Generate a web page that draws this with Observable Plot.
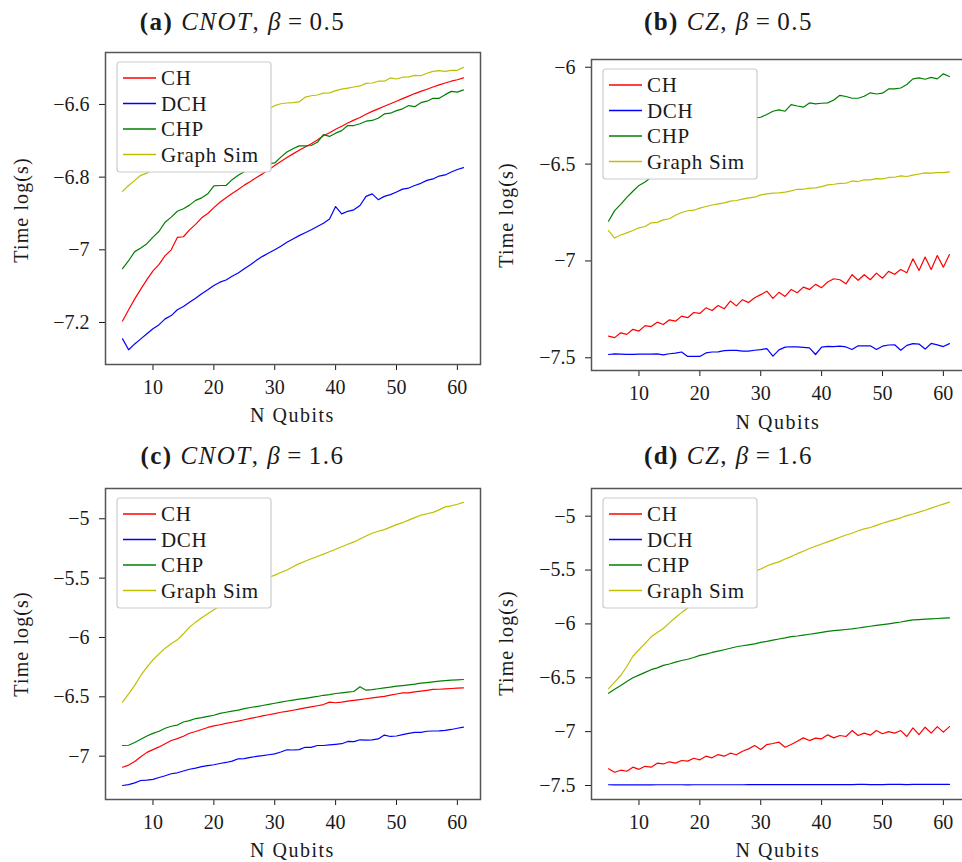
<!DOCTYPE html>
<html><head><meta charset="utf-8">
<script src="https://cdn.jsdelivr.net/npm/d3@7"></script>
<script src="https://cdn.jsdelivr.net/npm/@observablehq/plot@0.6"></script>
<style>
html,body{margin:0;padding:0;background:#fff;overflow:hidden;}
#root{position:relative;width:962px;height:862px;overflow:hidden;background:#fff;}
.panel{position:absolute;}
#overlay{position:absolute;left:0;top:0;pointer-events:none;}
</style></head><body><div id="root"></div><script>
// ---------- data ----------
const qubits = [5,6,7,8,9,10,11,12,13,14,15,16,17,18,19,20,21,22,23,24,25,26,27,28,29,30,31,32,33,34,35,36,37,38,39,40,41,42,43,44,45,46,47,48,49,50,51,52,53,54,55,56,57,58,59,60,61];
const seriesNames = ["CH","DCH","CHP","Graph Sim"];
const seriesColors = ["#ff0000","#0000ff","#008000","#bfbf00"];
const xTicks = [10,20,30,40,50,60];

// (a) CNOT, beta = 0.5
const aCH = [-7.196,-7.165,-7.135,-7.108,-7.082,-7.058,-7.040,-7.016,-7.000,-6.966,
  -6.964,-6.945,-6.930,-6.912,-6.900,-6.884,-6.869,-6.857,-6.845,-6.834,
  -6.822,-6.812,-6.801,-6.791,-6.780,-6.768,-6.757,-6.746,-6.736,-6.726,
  -6.717,-6.708,-6.698,-6.686,-6.678,-6.668,-6.660,-6.651,-6.643,-6.636,
  -6.627,-6.619,-6.612,-6.605,-6.598,-6.591,-6.584,-6.577,-6.570,-6.564,
  -6.558,-6.552,-6.546,-6.541,-6.536,-6.532,-6.527];
const aDCH = [-7.245,-7.275,-7.259,-7.245,-7.231,-7.217,-7.206,-7.190,-7.181,-7.165,
  -7.156,-7.144,-7.133,-7.121,-7.110,-7.098,-7.089,-7.083,-7.073,-7.064,
  -7.052,-7.041,-7.029,-7.018,-7.009,-7.000,-6.990,-6.979,-6.970,-6.961,
  -6.953,-6.945,-6.936,-6.927,-6.915,-6.881,-6.901,-6.894,-6.890,-6.878,
  -6.853,-6.846,-6.862,-6.853,-6.848,-6.841,-6.833,-6.830,-6.823,-6.817,
  -6.809,-6.805,-6.797,-6.794,-6.786,-6.779,-6.774];
const aCHP = [-7.052,-7.030,-7.005,-6.995,-6.983,-6.965,-6.949,-6.924,-6.910,-6.894,
  -6.887,-6.877,-6.864,-6.857,-6.846,-6.824,-6.823,-6.823,-6.807,-6.795,
  -6.785,-6.777,-6.771,-6.767,-6.763,-6.761,-6.745,-6.731,-6.722,-6.714,
  -6.714,-6.713,-6.704,-6.683,-6.688,-6.679,-6.672,-6.658,-6.658,-6.653,
  -6.646,-6.644,-6.638,-6.626,-6.624,-6.617,-6.612,-6.603,-6.606,-6.595,
  -6.591,-6.583,-6.583,-6.573,-6.564,-6.566,-6.560];
const aGS = [-6.839,-6.823,-6.809,-6.795,-6.789,-6.777,-6.765,-6.753,-6.741,-6.731,
  -6.720,-6.710,-6.700,-6.691,-6.682,-6.674,-6.665,-6.658,-6.650,-6.644,
  -6.637,-6.631,-6.625,-6.620,-6.613,-6.603,-6.598,-6.596,-6.595,-6.593,
  -6.580,-6.576,-6.574,-6.569,-6.568,-6.562,-6.558,-6.555,-6.552,-6.549,
  -6.542,-6.541,-6.536,-6.536,-6.527,-6.530,-6.525,-6.524,-6.520,-6.521,
  -6.514,-6.509,-6.507,-6.509,-6.506,-6.506,-6.498];

// (b) CZ, beta = 0.5
const bCH = [-7.388,-7.396,-7.371,-7.379,-7.353,-7.362,-7.334,-7.339,-7.316,-7.328,
  -7.304,-7.311,-7.285,-7.293,-7.266,-7.271,-7.242,-7.256,-7.230,-7.247,
  -7.207,-7.232,-7.200,-7.215,-7.190,-7.174,-7.156,-7.193,-7.162,-7.183,
  -7.147,-7.164,-7.135,-7.147,-7.121,-7.138,-7.109,-7.092,-7.097,-7.118,
  -7.071,-7.100,-7.071,-7.097,-7.063,-7.089,-7.054,-7.069,-7.044,-7.061,
  -6.989,-7.049,-6.980,-7.044,-6.972,-7.032,-6.967];
const bDCH = [-7.483,-7.480,-7.481,-7.482,-7.482,-7.481,-7.481,-7.481,-7.480,-7.485,
  -7.479,-7.476,-7.470,-7.493,-7.493,-7.493,-7.475,-7.470,-7.469,-7.463,
  -7.462,-7.462,-7.466,-7.466,-7.461,-7.458,-7.453,-7.491,-7.459,-7.445,
  -7.443,-7.444,-7.446,-7.449,-7.483,-7.445,-7.441,-7.442,-7.440,-7.444,
  -7.457,-7.438,-7.438,-7.438,-7.457,-7.440,-7.434,-7.433,-7.461,-7.436,
  -7.427,-7.429,-7.455,-7.426,-7.433,-7.442,-7.427];
const bCHP = [-6.795,-6.740,-6.708,-6.672,-6.640,-6.610,-6.592,-6.568,-6.542,-6.517,
  -6.493,-6.470,-6.448,-6.427,-6.407,-6.388,-6.370,-6.353,-6.337,-6.322,
  -6.308,-6.295,-6.283,-6.272,-6.263,-6.258,-6.244,-6.227,-6.220,-6.227,
  -6.193,-6.200,-6.206,-6.184,-6.189,-6.186,-6.184,-6.169,-6.145,-6.151,
  -6.160,-6.160,-6.150,-6.132,-6.138,-6.134,-6.112,-6.112,-6.107,-6.089,
  -6.060,-6.055,-6.062,-6.052,-6.060,-6.034,-6.048];
const bGS = [-6.843,-6.882,-6.866,-6.855,-6.843,-6.829,-6.822,-6.803,-6.801,-6.788,
  -6.782,-6.764,-6.750,-6.741,-6.738,-6.727,-6.719,-6.711,-6.705,-6.700,
  -6.691,-6.688,-6.681,-6.674,-6.671,-6.659,-6.654,-6.650,-6.649,-6.645,
  -6.638,-6.630,-6.630,-6.624,-6.623,-6.616,-6.607,-6.604,-6.600,-6.599,
  -6.587,-6.590,-6.581,-6.581,-6.575,-6.576,-6.569,-6.568,-6.561,-6.564,
  -6.557,-6.551,-6.545,-6.547,-6.544,-6.544,-6.540];

// (c) CNOT, beta = 1.6
const cCH = [-7.093,-7.075,-7.045,-7.005,-6.968,-6.945,-6.922,-6.895,-6.868,-6.852,
  -6.832,-6.807,-6.792,-6.775,-6.758,-6.745,-6.735,-6.724,-6.714,-6.704,
  -6.693,-6.682,-6.672,-6.661,-6.651,-6.641,-6.630,-6.622,-6.613,-6.603,
  -6.593,-6.584,-6.575,-6.565,-6.545,-6.550,-6.545,-6.537,-6.530,-6.523,
  -6.516,-6.509,-6.502,-6.496,-6.485,-6.476,-6.466,-6.466,-6.458,-6.452,
  -6.445,-6.438,-6.436,-6.433,-6.430,-6.427,-6.424];
const cDCH = [-7.247,-7.240,-7.225,-7.205,-7.202,-7.195,-7.180,-7.165,-7.148,-7.140,
  -7.125,-7.110,-7.100,-7.088,-7.080,-7.072,-7.062,-7.053,-7.042,-7.022,
  -7.020,-7.010,-7.002,-6.996,-6.988,-6.980,-6.965,-6.946,-6.948,-6.945,
  -6.925,-6.926,-6.910,-6.910,-6.905,-6.900,-6.895,-6.876,-6.878,-6.862,
  -6.864,-6.862,-6.855,-6.822,-6.834,-6.830,-6.818,-6.808,-6.800,-6.800,
  -6.790,-6.788,-6.787,-6.783,-6.775,-6.765,-6.755];
const cCHP = [-6.910,-6.908,-6.885,-6.858,-6.830,-6.808,-6.790,-6.765,-6.748,-6.738,
  -6.712,-6.700,-6.683,-6.675,-6.664,-6.655,-6.640,-6.630,-6.620,-6.612,
  -6.600,-6.590,-6.582,-6.573,-6.563,-6.554,-6.544,-6.535,-6.528,-6.520,
  -6.513,-6.505,-6.497,-6.487,-6.482,-6.472,-6.466,-6.460,-6.455,-6.415,
  -6.444,-6.440,-6.432,-6.425,-6.419,-6.410,-6.405,-6.399,-6.393,-6.385,
  -6.380,-6.374,-6.368,-6.364,-6.360,-6.357,-6.354];
const cGS = [-6.545,-6.475,-6.404,-6.320,-6.250,-6.188,-6.138,-6.090,-6.053,-6.020,
  -5.969,-5.913,-5.871,-5.834,-5.801,-5.767,-5.735,-5.700,-5.667,-5.635,
  -5.604,-5.575,-5.547,-5.520,-5.495,-5.475,-5.453,-5.432,-5.405,-5.378,
  -5.358,-5.337,-5.318,-5.298,-5.278,-5.257,-5.236,-5.215,-5.195,-5.170,
  -5.145,-5.122,-5.105,-5.091,-5.070,-5.049,-5.032,-5.011,-4.990,-4.970,
  -4.958,-4.946,-4.925,-4.900,-4.891,-4.878,-4.862];

// (d) CZ, beta = 1.6
const dCH = [-7.345,-7.377,-7.358,-7.368,-7.330,-7.350,-7.322,-7.330,-7.293,-7.300,
  -7.280,-7.292,-7.268,-7.274,-7.247,-7.262,-7.228,-7.243,-7.213,-7.228,
  -7.200,-7.215,-7.182,-7.160,-7.129,-7.166,-7.120,-7.110,-7.098,-7.145,
  -7.120,-7.090,-7.058,-7.083,-7.060,-7.067,-7.030,-7.058,-7.036,-7.045,
  -6.990,-7.036,-7.014,-7.033,-6.990,-7.020,-7.000,-7.014,-6.990,-7.045,
  -6.965,-7.027,-6.959,-7.014,-6.953,-7.005,-6.953];
const dDCH = [-7.493,-7.494,-7.494,-7.494,-7.494,-7.494,-7.494,-7.494,-7.493,-7.493,
  -7.493,-7.493,-7.493,-7.494,-7.493,-7.493,-7.493,-7.493,-7.493,-7.493,
  -7.493,-7.493,-7.493,-7.492,-7.492,-7.492,-7.492,-7.492,-7.492,-7.491,
  -7.492,-7.492,-7.492,-7.492,-7.491,-7.491,-7.491,-7.491,-7.491,-7.491,
  -7.491,-7.490,-7.490,-7.491,-7.491,-7.491,-7.490,-7.490,-7.489,-7.491,
  -7.489,-7.490,-7.490,-7.490,-7.490,-7.490,-7.490];
const dCHP = [-6.643,-6.607,-6.572,-6.535,-6.500,-6.475,-6.450,-6.425,-6.408,-6.385,
  -6.372,-6.355,-6.340,-6.328,-6.312,-6.292,-6.280,-6.265,-6.253,-6.240,
  -6.226,-6.212,-6.203,-6.195,-6.186,-6.172,-6.162,-6.150,-6.140,-6.130,
  -6.118,-6.112,-6.104,-6.096,-6.088,-6.079,-6.070,-6.063,-6.057,-6.052,
  -6.046,-6.038,-6.030,-6.022,-6.014,-6.007,-5.999,-5.990,-5.982,-5.972,
  -5.963,-5.960,-5.956,-5.953,-5.950,-5.947,-5.944];
const dGS = [-6.600,-6.540,-6.479,-6.395,-6.300,-6.240,-6.180,-6.120,-6.080,-6.042,
  -5.990,-5.940,-5.895,-5.852,-5.812,-5.774,-5.738,-5.704,-5.672,-5.641,
  -5.612,-5.584,-5.558,-5.534,-5.512,-5.490,-5.462,-5.440,-5.424,-5.398,
  -5.375,-5.348,-5.325,-5.300,-5.279,-5.258,-5.238,-5.218,-5.195,-5.175,
  -5.158,-5.135,-5.118,-5.105,-5.085,-5.066,-5.048,-5.032,-5.015,-4.995,
  -4.980,-4.963,-4.945,-4.925,-4.905,-4.888,-4.870];

const aYTicks = [-7.2,-7,-6.8,-6.6];
const bYTicks = [-7.5,-7,-6.5,-6];
const cYTicks = [-7,-6.5,-6,-5.5,-5];
const dYTicks = [-7.5,-7,-6.5,-6,-5.5,-5];

const titleGates = ["CNOT","CZ","CNOT","CZ"];
const titleLetters = ["(a)","(b)","(c)","(d)"];
const titleBetas = ["0.5","0.5","1.6","1.6"];
const xLabel = "N Qubits";
const yLabel = "Time log(s)";

// ---------- layout ----------
const FONT = "'Liberation Serif', 'Times New Roman', serif";
const panels = [
  {left:0,   top:0,   w:485, h:430, fl:105, ft:52,  fr:480, fb:364, yDomain:[-7.3156,-6.457], yTicks:aYTicks, data:[aCH,aDCH,aCHP,aGS],
   title:[242.5,29.5], ylab:[28,210], xlab:[292.5,422]},
  {left:480, top:0,   w:490, h:430, fl:591, ft:59,  fr:966, fb:370, yDomain:[-7.5656,-5.960], yTicks:bYTicks, data:[bCH,bDCH,bCHP,bGS],
   title:[728.5,29.5], ylab:[513,215], xlab:[778,428.5]},
  {left:0,   top:430, w:485, h:432, fl:105, ft:488, fr:480, fb:799, yDomain:[-7.365,-4.745], yTicks:cYTicks, data:[cCH,cDCH,cCHP,cGS],
   title:[242.5,464], ylab:[28,644], xlab:[292.5,856.5]},
  {left:480, top:430, w:490, h:432, fl:591, ft:488, fr:966, fb:799, yDomain:[-7.63,-4.743], yTicks:dYTicks, data:[dCH,dDCH,dCHP,dGS],
   title:[728.5,463.5], ylab:[513,643], xlab:[778,856.5]}
];

const fmt = d => (d < 0 ? "\u2212" : "") + String(Math.abs(d));
const root = document.getElementById("root");

panels.forEach(p => {
  const lines = p.data.map((vals, k) =>
    Plot.line(qubits.map((n, i) => ({n, t: vals[i]})), {x: "n", y: "t", stroke: seriesColors[k], strokeWidth: 1.2})
  );
  const chart = Plot.plot({
    width: p.w, height: p.h,
    marginLeft: p.fl - p.left, marginTop: p.ft - p.top,
    marginRight: p.left + p.w - p.fr, marginBottom: p.top + p.h - p.fb,
    x: {domain: [2.2, 63.8], ticks: xTicks, tickSize: 6, tickPadding: 9, label: null},
    y: {domain: p.yDomain, ticks: p.yTicks, tickFormat: fmt, tickSize: 6, tickPadding: 10, label: null},
    style: {background: "transparent", maxWidth: "none", fontFamily: FONT, fontSize: "20px", color: "#1a1a1a", overflow: "visible"},
    marks: [...lines, Plot.frame({stroke: "#555", strokeWidth: 1.5})]
  });
  const div = document.createElement("div");
  div.className = "panel";
  div.style.left = p.left + "px"; div.style.top = p.top + "px";
  div.style.width = p.w + "px"; div.style.height = p.h + "px";
  div.appendChild(chart);
  root.appendChild(div);
});

// ---------- overlay text & legends ----------
let s = `<svg id="overlay" width="962" height="862" xmlns="http://www.w3.org/2000/svg" font-family="${FONT}" fill="#1a1a1a">`;
panels.forEach((p, i) => {
  s += `<text x="${p.title[0]}" y="${p.title[1]}" text-anchor="middle" font-size="25" letter-spacing="1.5" style="white-space:pre"><tspan font-weight="bold">${titleLetters[i]}</tspan> <tspan font-style="italic">${titleGates[i]}</tspan>, <tspan font-style="italic">β</tspan><tspan dx="6">=</tspan><tspan dx="6">${titleBetas[i]}</tspan></text>`;
  s += `<text transform="translate(${p.ylab[0]},${p.ylab[1]}) rotate(-90)" text-anchor="middle" font-size="20" letter-spacing="1.1">${yLabel}</text>`;
  s += `<text x="${p.xlab[0]}" y="${p.xlab[1]}" text-anchor="middle" font-size="20" letter-spacing="1.5">${xLabel}</text>`;
  const bx = p.fl + 12, by = p.ft + 10;
  s += `<rect x="${bx}" y="${by}" width="154" height="110" rx="3" fill="#fff" stroke="#cccccc" stroke-width="1.2"/>`;
  seriesNames.forEach((name, k) => {
    const ry = by + 16 + k * 25.5;
    s += `<line x1="${bx + 6}" x2="${bx + 39}" y1="${ry}" y2="${ry}" stroke="${seriesColors[k]}" stroke-width="1.3"/>`;
    s += `<text x="${bx + 44}" y="${ry + 7}" font-size="21" letter-spacing="0.7">${name}</text>`;
  });
});
s += `</svg>`;
root.insertAdjacentHTML("beforeend", s);
</script></body></html>
